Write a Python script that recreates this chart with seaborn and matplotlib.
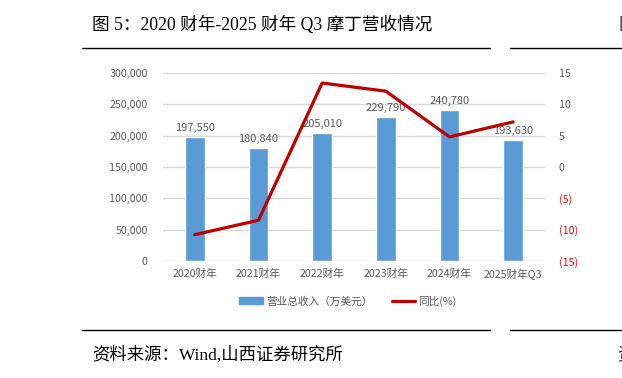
import numpy as np
import pandas as pd
import matplotlib
matplotlib.use("Agg")
import matplotlib.pyplot as plt
from matplotlib.lines import Line2D
from matplotlib.ticker import FuncFormatter
import seaborn as sns

categories = ["2020财年", "2021财年", "2022财年", "2023财年", "2024财年", "2025财年Q3"]
revenue = [197550, 180840, 205010, 229790, 240780, 193630]
yoy = [-10.8, -8.5, 13.4, 12.1, 4.8, 7.2]
left_ticks = [0, 50000, 100000, 150000, 200000, 250000, 300000]
right_ticks = [-15, -10, -5, 0, 5, 10, 15]

sns.set_theme(style="white")
plt.rcParams['font.family'] = ['Noto Sans CJK SC', 'DejaVu Sans']
plt.rcParams['axes.unicode_minus'] = False

W, H = 622, 378
fig = plt.figure(figsize=(W / 100, H / 100), dpi=100)
ax = fig.add_axes([163 / W, 1 - 261 / H, (545 - 163) / W, (261 - 73) / H])

df = pd.DataFrame({"cat": categories, "rev": revenue, "yoy": yoy})
sns.barplot(data=df, x="cat", y="rev", ax=ax, color="#5B9BD5", saturation=1,
            width=0.31, zorder=2)
ax.set_ylim(0, 300000)
ax.set_xlim(-0.5, 5.5)
ax.set_yticks(left_ticks)
ax.yaxis.set_major_formatter(FuncFormatter(lambda v, p: f"{int(v):,}"))
ax.grid(axis="y", color="#D9D9D9", linewidth=1)
ax.set_axisbelow(True)
for s in ax.spines.values():
    s.set_visible(False)
ax.tick_params(axis="both", length=0, labelsize=7.7, labelcolor="#595959")
ax.tick_params(axis="y", pad=11)
ax.tick_params(axis="x", pad=6)
ax.set_xlabel("")
ax.set_ylabel("")
for i, v in enumerate(revenue):
    ax.text(i, v + 6000, f"{v:,}", ha="center", va="bottom", fontsize=8,
            color="#595959", zorder=3)

ax2 = ax.twinx()
sns.lineplot(data=df, x="cat", y="yoy", ax=ax2, color="#C00000", linewidth=2.3,
             sort=False, zorder=4)
ax2.set_ylim(-15, 15)
ax2.set_yticks(right_ticks)
ax2.yaxis.set_major_formatter(FuncFormatter(lambda v, p: f"({abs(int(v))})" if v < 0 else f"{int(v)}"))
for s in ax2.spines.values():
    s.set_visible(False)
ax2.tick_params(axis="y", length=0, labelsize=7.7, pad=10)
for lab, t in zip(ax2.get_yticklabels(), right_ticks):
    lab.set_color("#FF0000" if t < 0 else "#595959")
ax2.set_ylabel("")
ax2.set_xlabel("")
ax2.grid(False)

handles = [plt.Rectangle((0, 0), 1, 1, color="#5B9BD5"),
           Line2D([0], [0], color="#C00000", linewidth=2.3)]
fig.legend(handles, ["营业总收入（万美元）", "同比(%)"], loc="center",
           bbox_to_anchor=(348 / W, 1 - 301 / H), ncol=2, frameon=False,
           fontsize=7.7, labelcolor="#595959", handlelength=2.2,
           handletextpad=0.3, columnspacing=1.8)

fig.text(92 / W, 1 - 25 / H, "图 5：2020 财年-2025 财年 Q3 摩丁营收情况",
         fontsize=12.7, ha="left", va="center", color="black",
         family=['Liberation Serif', 'Noto Sans CJK SC'])
fig.text(618 / W, 1 - 25 / H, "图", fontsize=12.5, ha="left", va="center",
         family=['Noto Sans CJK SC'])
fig.text(92 / W, 1 - 355 / H, "资料来源：Wind,山西证券研究所",
         fontsize=12.5, ha="left", va="center", color="black",
         family=['Liberation Serif', 'Noto Sans CJK SC'])
fig.text(617 / W, 1 - 355 / H, "资", fontsize=12.5, ha="left", va="center",
         family=['Noto Sans CJK SC'])

for y in (48, 330):
    fig.add_artist(Line2D([82 / W, 490 / W], [1 - y / H, 1 - y / H], color="black", linewidth=1))
    fig.add_artist(Line2D([510 / W, 1.0], [1 - y / H, 1 - y / H], color="black", linewidth=1))

fig.savefig("out.png", dpi=100)
